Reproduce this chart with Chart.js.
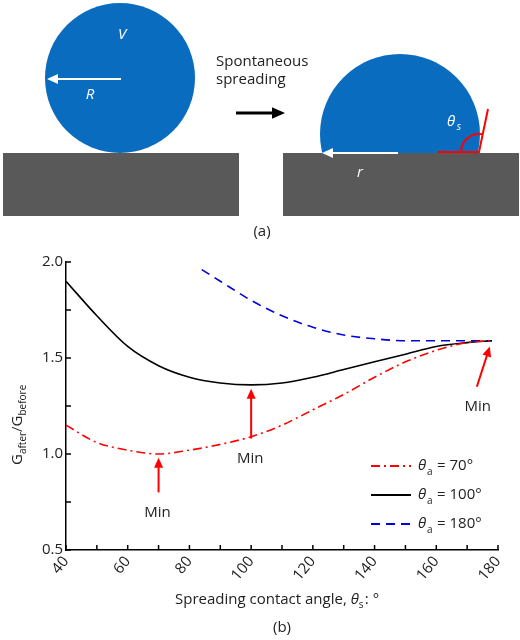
<!DOCTYPE html>
<html>
<head>
<meta charset="utf-8">
<script src="https://cdn.jsdelivr.net/npm/chart.js@4/dist/chart.umd.min.js"></script>
<style>
  body { margin: 0; background: #fff; }
  #wrap { width: 520px; height: 640px; position: relative; }
</style>
</head>
<body>
<div id="wrap"><canvas id="chart" width="520" height="640"></canvas></div>
<script>
// valores
const angulos = [40, 50, 60, 70, 80, 90, 100, 110, 120, 130, 140, 150, 160, 170, 178];
const g70  = [1.15, 1.06, 1.02, 1.00, 1.02, 1.05, 1.09, 1.15, 1.23, 1.31, 1.40, 1.48, 1.54, 1.58, 1.59];
const g100 = [1.90, 1.72, 1.56, 1.46, 1.40, 1.37, 1.36, 1.37, 1.40, 1.44, 1.48, 1.52, 1.56, 1.58, 1.59];
const angulos180 = [84, 90, 100, 110, 120, 130, 140, 150, 160, 170, 178];
const g180 = [1.96, 1.90, 1.80, 1.72, 1.66, 1.62, 1.60, 1.59, 1.59, 1.59, 1.59];
const legendas = ['= 70°', '= 100°', '= 180°'];
// setas "Min": [x, yPonta, yCauda]
const setasMin = [[70, 0.98, 0.80], [100, 1.34, 1.08], [178, 1.56, 1.35]];

const azul = '#0a6cbf';
const cinza = '#595959';
const fonte = '"Open Sans", "DejaVu Sans", sans-serif';

function seta(ctx, x1, y1, x2, y2, cor, larg, cab) {
    const a = Math.atan2(y2 - y1, x2 - x1);
    ctx.strokeStyle = cor; ctx.fillStyle = cor; ctx.lineWidth = larg;
    ctx.beginPath();
    ctx.moveTo(x1, y1);
    ctx.lineTo(x2 - Math.cos(a) * cab * 0.8, y2 - Math.sin(a) * cab * 0.8);
    ctx.stroke();
    ctx.beginPath();
    ctx.moveTo(x2, y2);
    ctx.lineTo(x2 - cab * Math.cos(a) + cab * 0.45 * Math.sin(a), y2 - cab * Math.sin(a) - cab * 0.45 * Math.cos(a));
    ctx.lineTo(x2 - cab * Math.cos(a) - cab * 0.45 * Math.sin(a), y2 - cab * Math.sin(a) + cab * 0.45 * Math.cos(a));
    ctx.closePath();
    ctx.fill();
}

const desenhos = {
    id: 'desenhos',
    afterDraw(chart) {
        const ctx = chart.ctx;
        const xs = chart.scales.x, ys = chart.scales.y;
        ctx.save();
        // (a) ilustracao da gota
        ctx.fillStyle = cinza;
        ctx.fillRect(3, 153, 236, 63);
        ctx.fillRect(283, 153, 236, 63);
        ctx.fillStyle = azul;
        ctx.beginPath(); ctx.arc(120, 78, 75, 0, Math.PI * 2); ctx.fill();
        ctx.save();
        ctx.beginPath(); ctx.rect(300, 40, 200, 113); ctx.clip();
        ctx.beginPath(); ctx.arc(400, 134, 80, 0, Math.PI * 2); ctx.fill();
        ctx.restore();
        seta(ctx, 121, 79, 47, 79, '#fff', 2, 11);
        seta(ctx, 398, 153, 322, 153, '#fff', 2, 11);
        seta(ctx, 236, 113, 285, 113, '#000', 3, 13);
        ctx.fillStyle = '#fff';
        ctx.font = 'italic 15px ' + fonte;
        ctx.textAlign = 'center'; ctx.textBaseline = 'middle';
        ctx.fillText('V', 122, 35);
        ctx.fillText('R', 90, 95);
        ctx.fillText('r', 360, 173);
        ctx.font = 'italic 15px ' + fonte;
        ctx.fillText('θ', 451, 122);
        ctx.font = 'italic 10px ' + fonte;
        ctx.fillText('s', 459, 127);
        // angulo de contato
        ctx.strokeStyle = 'red'; ctx.lineWidth = 2;
        ctx.beginPath(); ctx.moveTo(438, 152); ctx.lineTo(479, 152); ctx.lineTo(488, 109); ctx.stroke();
        ctx.beginPath(); ctx.arc(479, 152, 18, Math.PI, Math.PI * 1.56); ctx.stroke();
        ctx.fillStyle = '#222';
        ctx.font = '15px ' + fonte;
        ctx.textAlign = 'left';
        ctx.fillText('Spontaneous', 216, 62);
        ctx.fillText('spreading', 216, 80);
        ctx.textAlign = 'center';
        ctx.fillText('(a)', 262, 232);
        ctx.fillText('(b)', 282, 628);
        // titulo do eixo x
        ctx.textAlign = 'left';
        const tx = 'Spreading contact angle, ';
        ctx.font = '15px ' + fonte;
        const w1 = ctx.measureText(tx).width;
        const x0 = 175;
        ctx.fillText(tx, x0, 600);
        ctx.font = 'italic 15px ' + fonte;
        ctx.fillText('θ', x0 + w1, 600);
        const w2 = ctx.measureText('θ').width;
        ctx.font = '10px ' + fonte;
        ctx.fillText('s', x0 + w1 + w2, 605);
        ctx.font = '15px ' + fonte;
        ctx.fillText(': °', x0 + w1 + w2 + 6, 600);
        // titulo do eixo y
        ctx.save();
        ctx.translate(18, 405); ctx.rotate(-Math.PI / 2);
        ctx.textAlign = 'left';
        let px = -60;
        const partes = [['G', 15, 0], ['after', 10, 5], ['/G', 15, 0], ['before', 10, 5]];
        partes.forEach(p => {
            ctx.font = p[1] + 'px ' + fonte;
            ctx.fillText(p[0], px, p[2]);
            px += ctx.measureText(p[0]).width;
        });
        ctx.restore();
        // setas Min
        ctx.font = '15px ' + fonte;
        ctx.textAlign = 'center';
        setasMin.forEach((s, i) => {
            const x = xs.getPixelForValue(s[0]);
            if (i < 2) {
                seta(ctx, x, ys.getPixelForValue(s[2]), x, ys.getPixelForValue(s[1]), 'red', 2, 10);
                ctx.fillStyle = '#222';
                ctx.fillText('Min', x - 1, ys.getPixelForValue(s[2]) + 20);
            } else {
                seta(ctx, x - 15, ys.getPixelForValue(s[2]), x - 2, ys.getPixelForValue(s[1]), 'red', 2, 10);
                ctx.fillStyle = '#222';
                ctx.fillText('Min', x - 14, ys.getPixelForValue(s[2]) + 20);
            }
        });
        // legenda
        const cores = ['red', '#000', '#0000e0'];
        const tracos = [[9, 4, 2, 4], [], [9, 6]];
        cores.forEach((c, i) => {
            const y = 466 + i * 29;
            ctx.strokeStyle = c; ctx.lineWidth = 2; ctx.setLineDash(tracos[i]);
            ctx.beginPath(); ctx.moveTo(371, y); ctx.lineTo(411, y); ctx.stroke();
            ctx.setLineDash([]);
            ctx.fillStyle = '#222';
            ctx.textAlign = 'left';
            ctx.font = 'italic 15px ' + fonte;
            ctx.fillText('θ', 418, y);
            ctx.font = '10px ' + fonte;
            ctx.fillText('a', 427, y + 6);
            ctx.font = '15px ' + fonte;
            ctx.fillText(legendas[i], 437, y);
        });
        ctx.restore();
    }
};

const ctx = document.getElementById('chart').getContext('2d');
const chart = new Chart(ctx, {
    type: 'line',
    data: {
        datasets: [{
            data: angulos.map((a, i) => ({ x: a, y: g70[i] })),
            borderColor: 'red',
            borderDash: [9, 4, 2, 4],
            borderWidth: 1.6
        }, {
            data: angulos.map((a, i) => ({ x: a, y: g100[i] })),
            borderColor: '#000',
            borderWidth: 1.6
        }, {
            data: angulos180.map((a, i) => ({ x: a, y: g180[i] })),
            borderColor: '#0000e0',
            borderDash: [9, 6],
            borderWidth: 1.6
        }]
    },
    options: {
        responsive: false,
        animation: false,
        devicePixelRatio: 1,
        layout: { padding: { top: 262, left: 0, right: 22, bottom: 0 } },
        elements: { point: { radius: 0 }, line: { tension: 0.4, cubicInterpolationMode: 'monotone' } },
        plugins: { legend: { display: false }, tooltip: { enabled: false } },
        scales: {
            x: {
                type: 'linear', min: 40, max: 180,
                grid: { display: false, drawTicks: false },
                border: { color: '#000', width: 1.5 },
                ticks: {
                    stepSize: 10,
                    color: '#222', font: { size: 15, family: fonte },
                    callback: v => v % 20 === 0 ? v : ''
                },
                afterFit: a => { a.height = 90; }
            },
            y: {
                min: 0.5, max: 2.0,
                grid: { display: false, drawTicks: false },
                border: { color: '#000', width: 1.5 },
                ticks: {
                    stepSize: 0.25,
                    color: '#222', font: { size: 15, family: fonte },
                    callback: v => (Math.round(v * 100) % 50 === 0) ? v.toFixed(1) : ''
                },
                afterFit: a => { a.width = 66; }
            }
        }
    },
    plugins: [desenhos, {
        id: 'marcas',
        afterDraw(chart) {
            // pequenas marcas internas nos eixos
            const c = chart.ctx, a = chart.chartArea;
            const xs = chart.scales.x, ys = chart.scales.y;
            c.save(); c.strokeStyle = '#000'; c.lineWidth = 1.5;
            for (let v = 40; v <= 180; v += 10) {
                const x = xs.getPixelForValue(v);
                c.beginPath(); c.moveTo(x, a.bottom); c.lineTo(x, a.bottom - 5); c.stroke();
            }
            for (let v = 0.5; v <= 2.0; v += 0.25) {
                const y = ys.getPixelForValue(v);
                c.beginPath(); c.moveTo(a.left, y); c.lineTo(a.left + 5, y); c.stroke();
            }
            c.restore();
        }
    }]
});
</script>
</body>
</html>
